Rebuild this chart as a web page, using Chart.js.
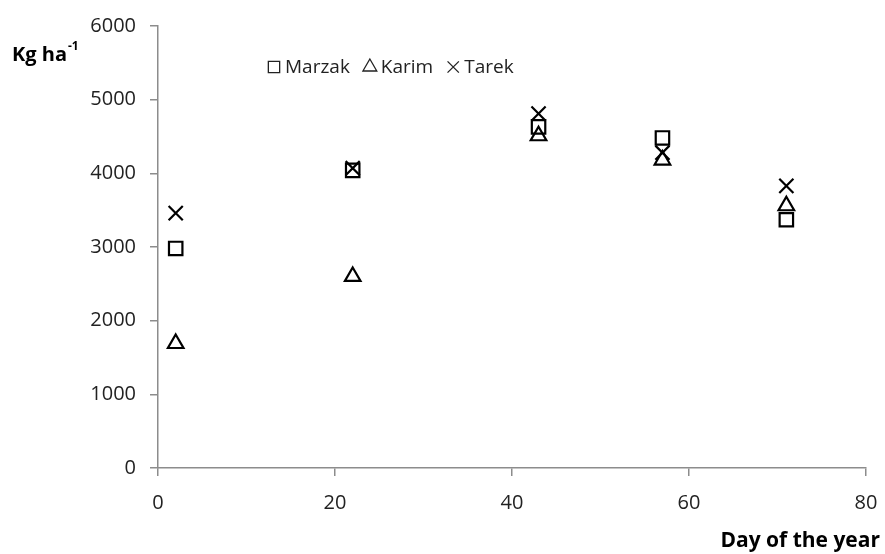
<!DOCTYPE html>
<html lang="en">
<head>
<meta charset="UTF-8" />
<title>Yield by day of the year</title>
<script src="https://cdn.jsdelivr.net/npm/chart.js"></script>
<style>
  body { margin: 0; background: #fff; }
  #wrap { width: 885px; height: 554px; }
</style>
</head>
<body>
<div id="wrap"><canvas id="chart"></canvas></div>
<script>
// values
const days = [2, 22, 43, 57, 71];
const marzak = [2980, 4040, 4630, 4480, 3370];
const karim = [1690, 2600, 4510, 4180, 3560];
const tarek = [3460, 4070, 4810, 4280, 3830];
const xTicks = [0, 20, 40, 60, 80];
const yTicks = [0, 1000, 2000, 3000, 4000, 5000, 6000];

const FONT = "'Open Sans', 'Liberation Sans', sans-serif";

function pts(vals) {
  return days.map((d, i) => ({ x: d, y: vals[i] }));
}

const series = [
  { label: 'Marzak', data: pts(marzak), pointStyle: 'rect', pointRadius: 9.5 },
  { label: 'Karim', data: pts(karim), pointStyle: 'triangle', pointRadius: 9 },
  { label: 'Tarek', data: pts(tarek), pointStyle: 'crossRot', pointRadius: 10 }
];

// legend inside the plot + axis titles
const extras = {
  id: 'extras',
  afterDraw(chart) {
    const ctx = chart.ctx;
    const area = chart.chartArea;
    ctx.save();
    ctx.fillStyle = '#000';
    ctx.font = "bold 20px " + FONT;
    ctx.textBaseline = 'middle';
    ctx.textAlign = 'left';
    ctx.fillText('Kg ha', 12, 55);
    const w = ctx.measureText('Kg ha').width;
    ctx.font = "bold 12px " + FONT;
    ctx.fillText('-1', 12 + w + 1, 47);
    ctx.font = "bold 21px " + FONT;
    ctx.textAlign = 'right';
    ctx.fillText('Day of the year', 880, 541);

    // legend
    ctx.font = "19px " + FONT;
    ctx.textAlign = 'left';
    let x = area.left + 110;
    const y = 67;
    chart.data.datasets.forEach(ds => {
      ctx.strokeStyle = '#222';
      ctx.fillStyle = 'rgba(0,0,0,0)';
      ctx.lineWidth = 1.3;
      Chart.helpers.drawPoint(ctx, { pointStyle: ds.pointStyle, radius: 8, rotation: 0, borderWidth: 1.3 }, x + 6, y);
      ctx.fillStyle = '#222';
      ctx.fillText(ds.label, x + 17, y + 1);
      x += 17 + ctx.measureText(ds.label).width + 14;
    });
    ctx.restore();
  }
};

new Chart(document.getElementById('chart'), {
  type: 'scatter',
  data: {
    datasets: series.map(s => ({
      label: s.label,
      data: s.data,
      pointStyle: s.pointStyle,
      pointRadius: s.pointRadius,
      pointHoverRadius: s.pointRadius,
      pointBorderColor: '#000',
      pointBackgroundColor: 'rgba(0,0,0,0)',
      pointBorderWidth: 2.2
    }))
  },
  options: {
    responsive: true,
    maintainAspectRatio: false,
    animation: false,
    layout: { padding: { left: 0, top: 25, right: 19, bottom: 0 } },
    plugins: { legend: { display: false }, tooltip: { enabled: false } },
    scales: {
      x: {
        type: 'linear',
        min: 0,
        max: 80,
        afterBuildTicks: s => { s.ticks = xTicks.map(v => ({ value: v })); },
        afterFit: s => { s.height = 86; s.paddingRight = 0; s.paddingLeft = 0; },
        border: { color: '#8c8c8c', width: 1.5 },
        grid: { drawOnChartArea: false, drawTicks: true, tickLength: 8, color: '#8c8c8c', lineWidth: 1.5 },
        ticks: { color: '#222', padding: 15, font: { family: FONT, size: 20 } }
      },
      y: {
        type: 'linear',
        min: 0,
        max: 6000,
        afterBuildTicks: s => { s.ticks = yTicks.map(v => ({ value: v })); },
        afterFit: s => { s.width = 158; },
        border: { color: '#8c8c8c', width: 1.5 },
        grid: { drawOnChartArea: false, drawTicks: true, tickLength: 8, color: '#8c8c8c', lineWidth: 1.5 },
        ticks: { color: '#222', padding: 14, font: { family: FONT, size: 20 }, callback: v => String(v) }
      }
    }
  },
  plugins: [extras]
});
</script>
</body>
</html>
